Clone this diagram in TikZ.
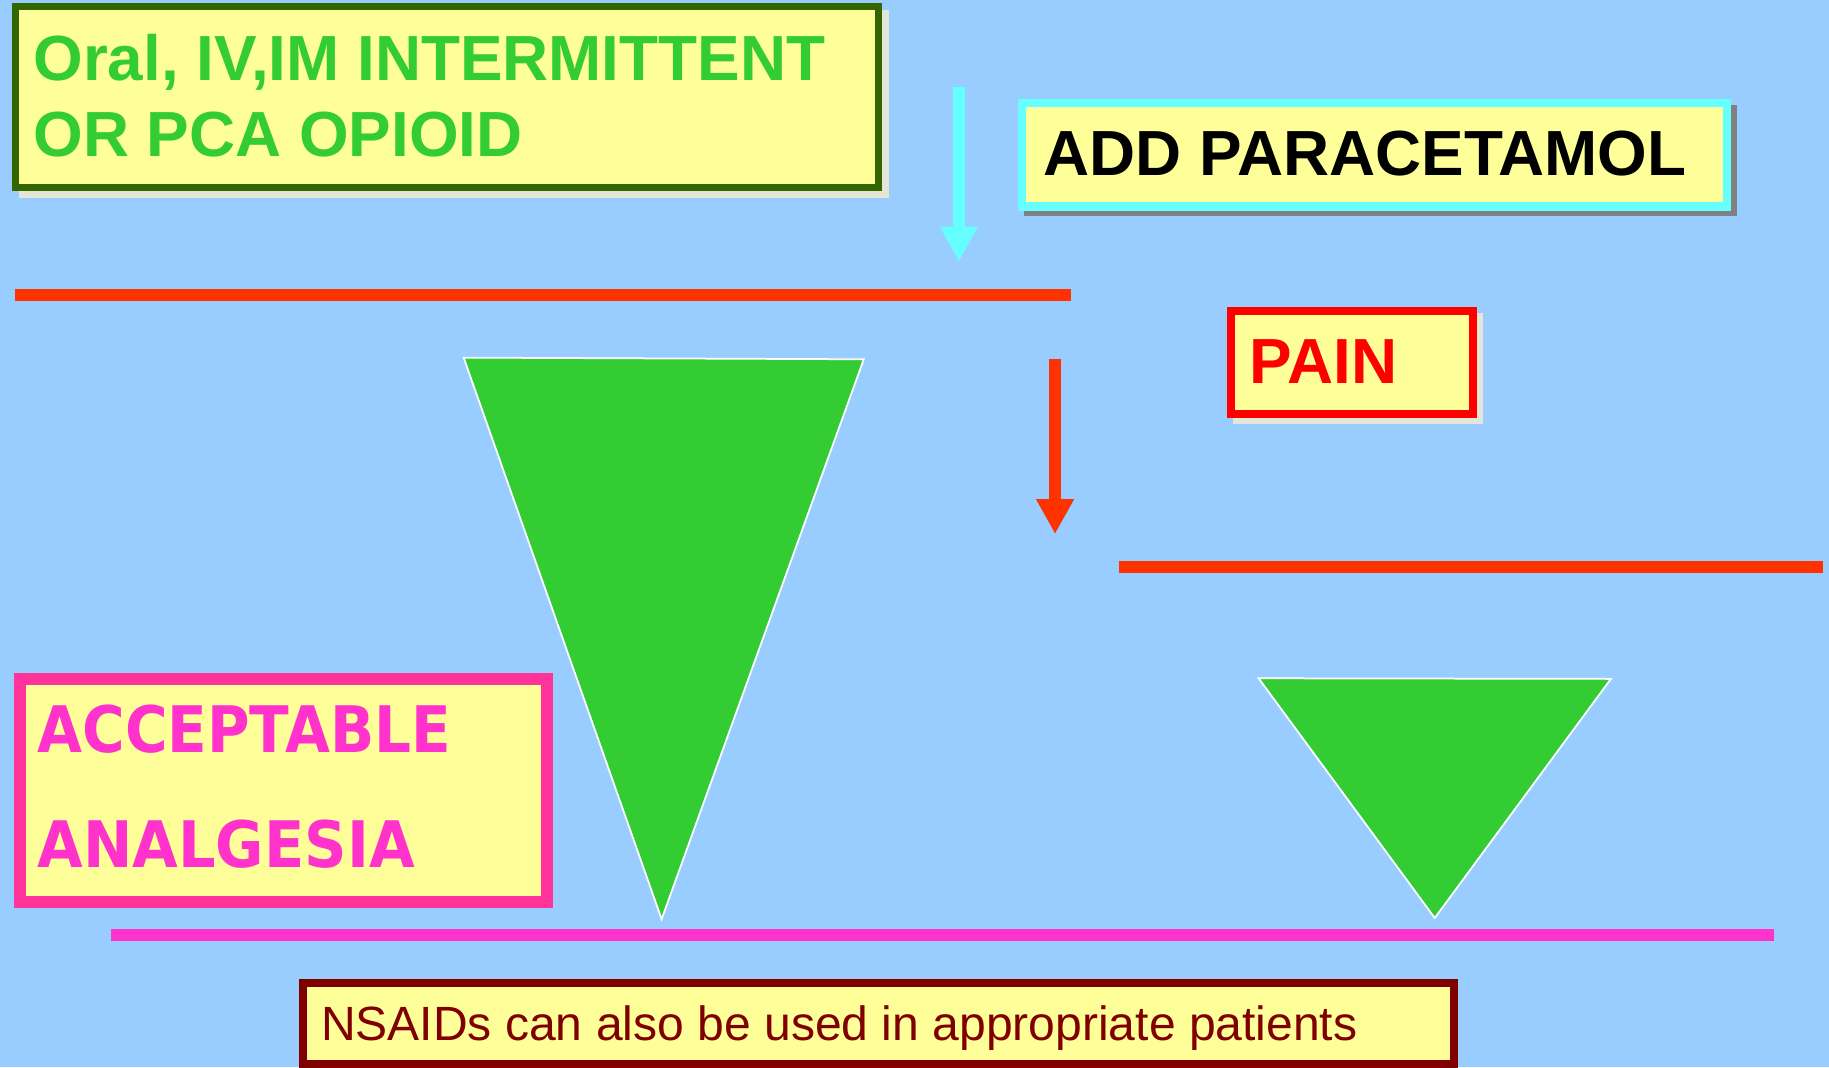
\documentclass[tikz,border=0pt]{standalone}
\usepackage{fontspec}
\setmainfont{Liberation Sans}
\newfontfamily\tahomalike{DejaVu Sans}
\usetikzlibrary{arrows.meta}
\definecolor{bg}{HTML}{99CCFF}
\definecolor{boxfill}{HTML}{FFFF99}
\definecolor{darkgreen}{HTML}{336600}
\definecolor{txtgreen}{HTML}{33CC33}
\definecolor{cyanish}{HTML}{66FFFF}
\definecolor{redorange}{HTML}{FF3300}
\definecolor{pinkborder}{HTML}{FF3399}
\definecolor{magentatxt}{HTML}{FF33CC}
\definecolor{maroon}{HTML}{800000}
\definecolor{shadelight}{HTML}{E6E6D8}
\definecolor{shadegrey}{HTML}{808080}
\begin{document}
\begin{tikzpicture}[x=1pt,y=-1pt,
  box/.style={draw, fill=boxfill, inner sep=0pt, rectangle},
  bigtxt/.style={anchor=base west, inner sep=0pt, font=\fontsize{54.7}{55}\selectfont\bfseries},
  tritxt/.style={anchor=base west, inner sep=0pt, font=\fontsize{55}{55}\selectfont\tahomalike\bfseries, text=magentatxt},
  hline/.style={line width=10pt, line cap=butt},
  arr/.style={line width=10pt, -{Triangle[width=30.6pt,length=30pt]}},
  tri/.style={fill=txtgreen, draw=white, line width=1.5pt, line join=miter}
]
\fill[bg] (0,0) rectangle (1568,915);
\useasboundingbox (0,0) rectangle (1568,915);

% shadows
\fill[shadelight] (16,9) rectangle (762,170);
\fill[shadegrey] (878,90) rectangle (1489,185.6);
\fill[shadelight] (1057,268) rectangle (1271,363.6);

% boxes
\node[box, draw=darkgreen, line width=6pt, minimum width=740pt, minimum height=155pt] (b1) at (383,83.5) {};
\node[box, draw=cyanish, line width=7pt, minimum width=604pt, minimum height=88.5pt] (b2) at (1178.5,132.75) {};
\node[box, draw=red, line width=7pt, minimum width=207pt, minimum height=88.5pt] (b3) at (1159,310.75) {};
\node[box, draw=pinkborder, line width=10pt, minimum width=452pt, minimum height=191pt] (b4) at (243,677.5) {};
\node[box, draw=maroon, line width=6.6pt, minimum width=987pt, minimum height=69.4pt] (b5) at (753,877.3) {};

% texts
\node[bigtxt, text=txtgreen] (t1a) at (28.5,68.6) {Oral, IV,IM INTERMITTENT};
\node[bigtxt, text=txtgreen] (t1b) at (28.5,134.3) {OR PCA OPIOID};
\node[bigtxt, text=black] (t2) at (894.5,150.6) {ADD PARACETAMOL};
\node[bigtxt, text=red] (t3) at (1071,328.6) {PAIN};
\node[tritxt] (t4a) at (32,645) {\scalebox{0.905}[1]{ACCEPTABLE}};
\node[tritxt] (t4b) at (32,743.8) {\scalebox{0.92}[1]{ANALGESIA}};
\node[anchor=base west, inner sep=0pt, font=\fontsize{41.2}{41.2}\selectfont, text=maroon] (t5) at (275,891.6) {NSAIDs can also be used in appropriate patients};

% horizontal lines
\coordinate (l1a) at (12.6,253);
\coordinate (l1b) at (918,253);
\coordinate (l2a) at (959,486);
\coordinate (l2b) at (1563,486);
\coordinate (l3a) at (95,801.5);
\coordinate (l3b) at (1521,801.5);
\draw[hline, redorange] (l1a) -- (l1b);
\draw[hline, redorange] (l2a) -- (l2b);
\draw[hline, magentatxt] (l3a) -- (l3b);

% arrows
\coordinate (a1s) at (822,74.3);
\coordinate (a1e) at (822,224.3);
\coordinate (a2s) at (904.5,307.8);
\coordinate (a2e) at (904.5,457.8);
\draw[arr, cyanish] (a1s) -- (a1e);
\draw[arr, redorange] (a2s) -- (a2e);

% triangles
\path[tri] (397.5,306.6) -- (740.5,308) -- (567.2,788) -- cycle;
\path[tri] (1079,581.5) -- (1381,582) -- (1230,787) -- cycle;
\end{tikzpicture}
\end{document}
